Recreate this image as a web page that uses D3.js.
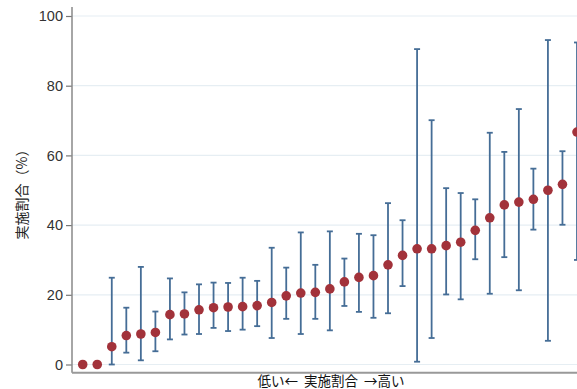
<!DOCTYPE html>
<html><head><meta charset="utf-8">
<script src="https://cdn.jsdelivr.net/npm/d3@7"></script>
<style>
html,body{margin:0;padding:0;background:#fff;overflow:hidden}
svg{display:block}
</style></head>
<body>
<svg id="chart" width="577" height="389"></svg>
<script>
const categories = d3.range(1, 36).map(String);
const values = [0,0,5.1,8.3,8.75,9.2,14.3,14.5,15.7,16.3,16.5,16.6,16.9,17.8,19.7,20.5,20.7,21.7,23.7,25.0,25.5,28.6,31.3,33.2,33.2,34.1,35.1,38.5,42.1,45.8,46.6,47.4,50.0,51.7,66.7];
const lower = [null,null,0,3.4,1.2,3.8,7.2,8.6,8.75,10.5,9.6,10.0,11.0,7.6,13.1,8.75,13.1,9.8,16.8,15.1,13.4,14.7,22.5,0.8,7.6,20.1,18.7,30.2,20.3,30.8,21.3,38.7,6.8,40.1,30.0];
const upper = [null,null,24.9,16.3,28.0,15.2,24.7,20.7,23.0,23.5,23.4,24.9,24.0,33.5,27.8,37.9,28.6,38.2,30.4,37.5,37.1,46.3,41.4,90.5,70.1,50.6,49.2,47.4,66.5,61.0,73.3,56.2,93.1,61.2,92.4];
const yTicks = [0,20,40,60,80,100];
const yTitle = "実施割合（%）";
const xTitle = "低い←  実施割合  →高い";

const svg = d3.select("#chart");
const x = d3.scalePoint().domain(categories).range([82.7, 577]).padding(0);
const y = d3.scaleLinear().domain([0,100]).range([364.5, 16]);
const axisX = 72, baseY = 372.7;

// gridlines
svg.append("g").selectAll("line").data(yTicks).join("line")
  .attr("x1", axisX).attr("x2", 577)
  .attr("y1", d => y(d)).attr("y2", d => y(d))
  .attr("stroke", "#e6eef3").attr("stroke-width", 1.2);

// y axis
const yAxis = svg.append("g").attr("transform", `translate(${axisX},0)`)
  .call(d3.axisLeft(y).tickValues(yTicks).tickSize(6).tickPadding(3));
yAxis.select(".domain").remove();
yAxis.selectAll(".tick line").attr("stroke", "#777").attr("stroke-width", 1.2);
yAxis.selectAll(".tick text").attr("fill", "#333")
  .style("font-family", "'Liberation Sans', Arial, sans-serif").style("font-size", "14.5px");
svg.append("line").attr("x1", axisX).attr("x2", axisX).attr("y1", 7).attr("y2", baseY)
  .attr("stroke", "#888").attr("stroke-width", 1.5);
svg.append("line").attr("x1", axisX).attr("x2", 577).attr("y1", baseY).attr("y2", baseY)
  .attr("stroke", "#999").attr("stroke-width", 2);

// error bars
const idx = d3.range(values.length).filter(i => lower[i] != null);
const eb = svg.append("g").attr("stroke", "#456d96").attr("stroke-width", 1.8);
eb.selectAll("line.v").data(idx).join("line").attr("class","v")
  .attr("x1", i => x(categories[i])).attr("x2", i => x(categories[i]))
  .attr("y1", i => y(lower[i])).attr("y2", i => y(upper[i]));
eb.selectAll("line.t").data(idx).join("line").attr("class","t")
  .attr("x1", i => x(categories[i]) - 3).attr("x2", i => x(categories[i]) + 3)
  .attr("y1", i => y(upper[i])).attr("y2", i => y(upper[i]));
eb.selectAll("line.b").data(idx).join("line").attr("class","b")
  .attr("x1", i => x(categories[i]) - 3).attr("x2", i => x(categories[i]) + 3)
  .attr("y1", i => y(lower[i])).attr("y2", i => y(lower[i]));

// points
svg.append("g").selectAll("circle").data(values).join("circle")
  .attr("cx", (d,i) => x(categories[i])).attr("cy", d => y(d))
  .attr("r", 4.8).attr("fill", "#a2323a");

// titles
svg.append("text").attr("transform", "translate(27,191) rotate(-90)")
  .attr("text-anchor", "middle").attr("fill", "#222")
  .style("font-family", "'Noto Sans CJK JP', sans-serif").style("font-size", "14px")
  .text(yTitle);
svg.append("text").attr("x", 331).attr("y", 386)
  .attr("text-anchor", "middle").attr("fill", "#111")
  .style("white-space", "pre")
  .style("font-family", "'Noto Sans CJK JP', sans-serif").style("font-size", "13.5px")
  .text(xTitle);
</script>
</body></html>
